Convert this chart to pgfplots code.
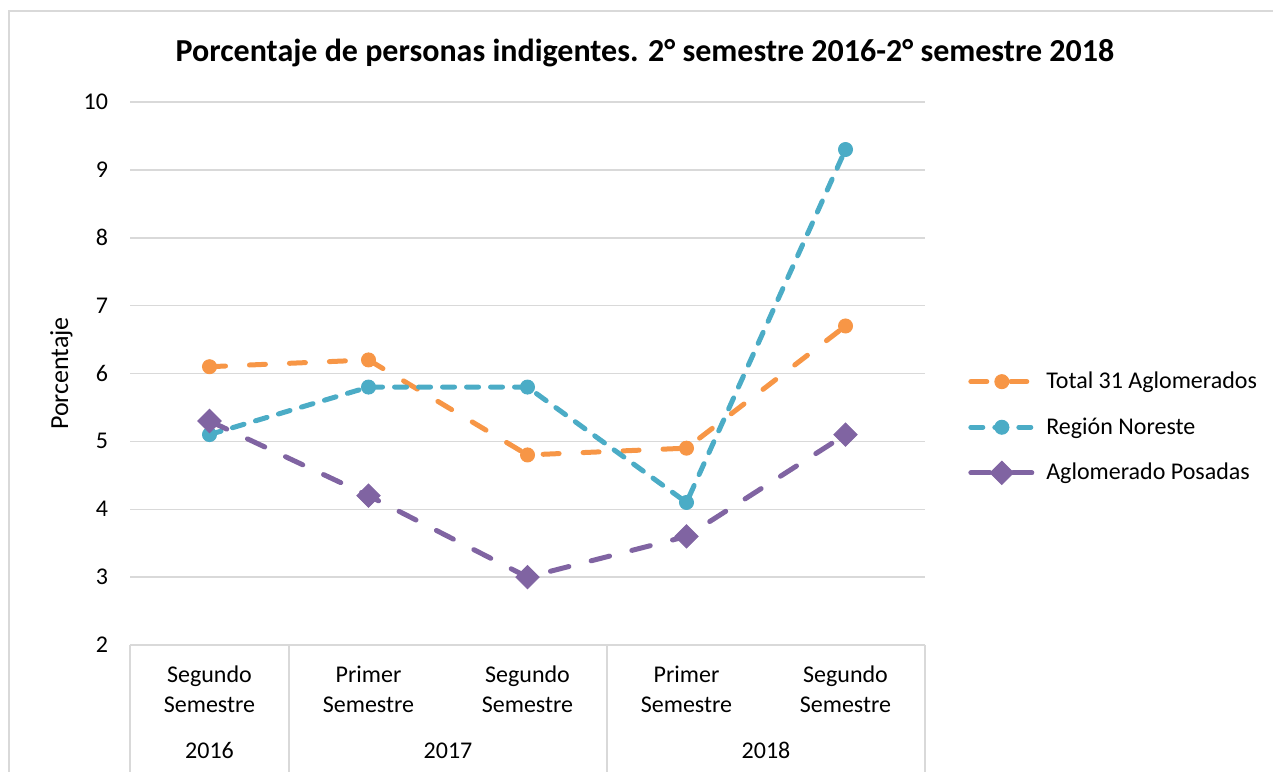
\documentclass[border=0pt]{standalone}
\usepackage{fontspec}
\setmainfont{Carlito}
\usepackage{pgfplots}
\pgfplotsset{compat=1.18}
\definecolor{corange}{HTML}{F79646}
\definecolor{cteal}{HTML}{4BACC6}
\definecolor{cpurple}{HTML}{8064A2}
\definecolor{cgrid}{HTML}{D9D9D9}
\begin{document}
\begin{tikzpicture}
\useasboundingbox (0,0) rectangle (636.5pt,385.5pt);
\draw[cgrid, line width=0.75pt] (4.5pt,-5pt) -- (4.5pt,380pt) -- (645pt,380pt);
\node[font=\fontsize{16}{19}\selectfont\bfseries, anchor=base, inner sep=0pt] at (322.5pt,354.5pt) {Porcentaje de personas indigentes. 2° semestre 2016-2° semestre 2018};
\node[font=\fontsize{13}{15}\selectfont, rotate=90, anchor=base, inner sep=0pt] at (34pt,198.75pt) {Porcentaje};
\begin{axis}[
  at={(65pt,63pt)}, anchor=south west, scale only axis,
  width=397.5pt, height=271.5pt,
  xmin=-0.5, xmax=4.5, ymin=2, ymax=10,
  ytick={2,...,10}, xtick={0,...,4},
  xticklabels={{Segundo\\Semestre},{Primer\\Semestre},{Segundo\\Semestre},{Primer\\Semestre},{Segundo\\Semestre}},
  xticklabel style={align=center, font=\fontsize{12}{15}\selectfont, yshift=-7pt},
  yticklabel style={font=\fontsize{12}{14}\selectfont, xshift=-7.5pt},
  /pgf/number format/assume math mode=true,
  major tick length=0pt,
  axis line style={draw=none},
  ymajorgrids, grid style={cgrid, line width=0.75pt},
  clip=false,
  legend cell align=left,
  legend style={at={(axis description cs:1.054,0.401)}, anchor=west, draw=none, fill=none,
    font=\fontsize{12}{14}\selectfont, row sep=9pt, inner sep=0pt,
    /tikz/every odd column/.append style={column sep=3.5pt}},
  legend image code/.code={\draw[mark repeat=2,mark phase=2,#1] plot coordinates {(0pt,0pt) (15.5pt,0pt) (31pt,0pt)};},
]
\addplot[corange, line width=2.5pt, line cap=round, dash pattern=on 8pt off 12pt,
  mark=*, mark size=3.5pt, mark options={solid, line width=0.5pt}]
  coordinates {(0,6.1) (1,6.2) (2,4.8) (3,4.9) (4,6.7)};
\addlegendentry{Total 31 Aglomerados}
\addplot[cteal, line width=2.5pt, line cap=round, dash pattern=on 6pt off 6pt,
  mark=*, mark size=3.5pt, mark options={solid, line width=0.5pt}]
  coordinates {(0,5.1) (1,5.8) (2,5.8) (3,4.1) (4,9.3)};
\addlegendentry{Región Noreste}
\addplot[cpurple, line width=2.5pt, line cap=round, dash pattern=on 9.5pt off 11.5pt,
  mark=square*, mark size=4.1pt, mark options={solid, rotate=45, line width=0.5pt}]
  coordinates {(0,5.3) (1,4.2) (2,3.0) (3,3.6) (4,5.1)};
\addlegendentry{Aglomerado Posadas}
\draw[cgrid, line width=0.75pt] (axis cs:-0.5,2) -- ++(0pt,-70pt);
\draw[cgrid, line width=0.75pt] (axis cs:0.5,2) -- ++(0pt,-70pt);
\draw[cgrid, line width=0.75pt] (axis cs:2.5,2) -- ++(0pt,-70pt);
\draw[cgrid, line width=0.75pt] (axis cs:4.5,2) -- ++(0pt,-70pt);
\node[anchor=base, font=\fontsize{12}{14}\selectfont, yshift=-56.5pt] at (axis cs:0,2) {2016};
\node[anchor=base, font=\fontsize{12}{14}\selectfont, yshift=-56.5pt] at (axis cs:1.5,2) {2017};
\node[anchor=base, font=\fontsize{12}{14}\selectfont, yshift=-56.5pt] at (axis cs:3.5,2) {2018};
\end{axis}
\end{tikzpicture}
\end{document}
